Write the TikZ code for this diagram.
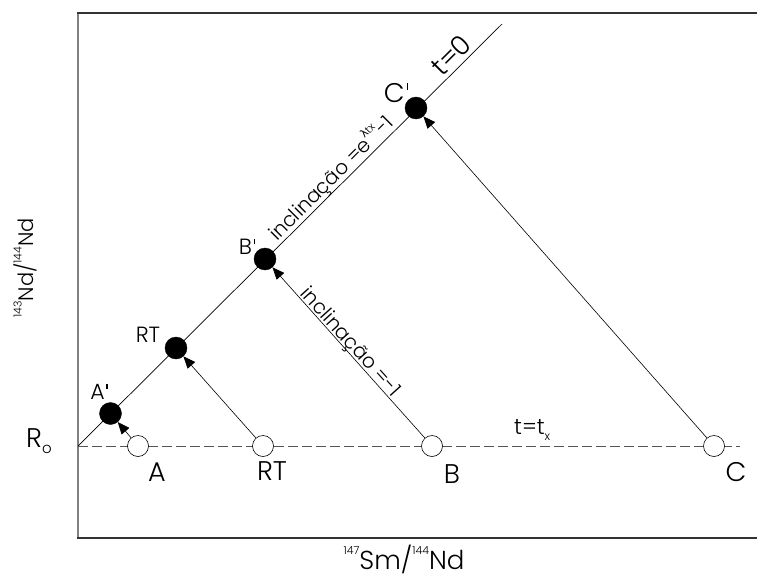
\documentclass[tikz,border=0pt]{standalone}
\usepackage{fontspec}
\setmainfont{Poppins}[UprightFont=* Light]
\newfontfamily\greekfont{DejaVu Sans}
\usetikzlibrary{arrows.meta}
\definecolor{framegray}{HTML}{808080}
\definecolor{framedark}{HTML}{333333}
\definecolor{dashgray}{HTML}{555555}
\tikzset{
  fullpt/.style={circle, fill=black, draw=black, inner sep=0pt, minimum size=22pt},
  openpt/.style={circle, fill=white, draw=black, line width=0.6pt, inner sep=0pt, minimum size=21pt},
  arr/.style={line width=0.6pt, -{Triangle[length=12pt,width=10pt]}},
  thinline/.style={line width=0.7pt},
  lblS/.style={font=\fontsize{22}{24}\selectfont, inner sep=0pt},
  lblL/.style={font=\fontsize{27}{29}\selectfont, inner sep=0pt},
  slopelbl/.style={font=\fontsize{20}{22}\selectfont, inner sep=0pt, anchor=base},
  ylbl/.style={font=\fontsize{21}{23}\selectfont, inner sep=0pt},
  xlbl/.style={font=\fontsize{26}{28}\selectfont, inner sep=0pt},
}
\newcommand{\smallsup}[1]{\raisebox{0.55em}{\fontsize{11}{11}\selectfont #1}}
\newcommand{\prm}{\kern0.08em\raisebox{0.47em}{\rule{0.055em}{0.24em}}}
\begin{document}
\begin{tikzpicture}[x=1pt,y=-1pt]
\useasboundingbox (0,0) rectangle (757,578);
% frame
\draw[framegray, line width=2pt] (78,13) -- (78,538);
\draw[framedark, line width=2pt] (77,13) -- (757,13);
\draw[framedark, line width=2pt] (77,538) -- (757,538);
% coordinates
\coordinate (Ro) at (78,446);
\coordinate (Dend) at (502,24);
\coordinate (Hend) at (740,446);
% lines
\draw[dashgray, line width=0.8pt, dash pattern=on 10pt off 4pt] (Ro) -- (Hend);
\draw[thinline] (Ro) -- (Dend);
% points
\node[fullpt] (Ap) at (110.5,413.5) {};
\node[fullpt] (RTp) at (176,348) {};
\node[fullpt] (Bp) at (265,259) {};
\node[fullpt] (Cp) at (416,108) {};
\node[openpt] (A) at (138,446) {};
\node[openpt] (RT) at (263,446) {};
\node[openpt] (B) at (432,446) {};
\node[openpt] (C) at (714,446) {};
% arrows
\draw[arr] (A) -- (Ap);
\draw[arr] (RT) -- (RTp);
\draw[arr] (B) -- (Bp);
\draw[arr] (C) -- (Cp);
% labels
\node[lblS] (lAp) at (99,392) {A\prm};
\node[lblS] (lRTp) at (148,335) {RT};
\node[lblS] (lBp) at (247,247) {B\prm};
\node[lblL] (lCp) at (396,93) {C\prm};
\node[lblL] (lA) at (157,472) {A};
\node[lblL] (lRT) at (272,471) {RT};
\node[lblL] (lB) at (452,474) {B};
\node[lblL] (lC) at (736,472) {C};
\node[lblL, anchor=west] (lRo) at (26,441) {R\raisebox{-0.25em}{\fontsize{15}{15}\selectfont o}};
\node[lblS, anchor=west] (ltx) at (514,430) {t=t\raisebox{-0.3em}{\fontsize{12}{12}\selectfont x}};
\node[lblL, rotate=45, anchor=base] (lt0) at (458,62) {t=0};
\node[slopelbl, rotate=45] (ls1) at (336,183) {inclinação =e\smallsup{{\greekfont λ}tx}-1};
\node[slopelbl, rotate=-48] (ls2) at (346,346) {inclinação =-1};
\node[ylbl, rotate=90] (ylab) at (25,268) {\smallsup{143}Nd/\smallsup{144}Nd};
\node[xlbl] (xlab) at (404,559) {\smallsup{147}Sm/\smallsup{144}Nd};
\end{tikzpicture}
\end{document}
